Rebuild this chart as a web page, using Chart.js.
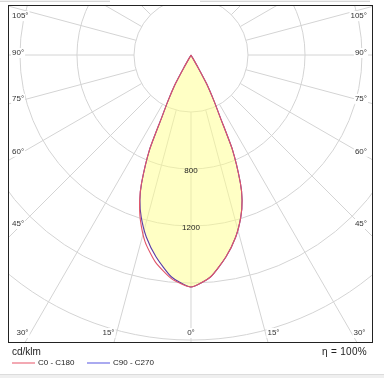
<!DOCTYPE html>
<html lang="en">
<head>
  <meta charset="UTF-8">
  <title>Polar intensity</title>
  <script src="https://cdn.jsdelivr.net/npm/chart.js"></script>
  <style>
    * { margin: 0; padding: 0; box-sizing: border-box; }
    body { background: #fff; font-family: 'Liberation Sans', Arial, sans-serif; color: #222; }
    .wrap { position: relative; width: 384px; height: 378px; overflow: hidden; }
    .wrap canvas { position: absolute; left: 0; top: 0; }
    .tab { position: absolute; top: 0; height: 2px; border-bottom: 1px solid #d6d6d6; background: #f2f2f2; }
    .foot { position: absolute; left: 0; top: 374px; width: 384px; height: 4px; background: #efefef; border-top: 1px solid #dcdcdc; }
    .unit { position: absolute; left: 12px; top: 346px; font-size: 10px; }
    .eta { position: absolute; right: 17px; top: 346px; font-size: 10px; letter-spacing: 0.3px; }
    .key { position: absolute; top: 358px; font-size: 8px; line-height: 10px; display: flex; align-items: center; }
    .key i { display: inline-block; width: 23px; height: 2px; margin-right: 3px; }
  </style>
</head>
<body>
  <div class="wrap">
    <div class="tab" style="left:0; width:110px;"></div>
    <div class="tab" style="left:200px; width:170px;"></div>
    <canvas id="polar"></canvas>
    <div class="unit">cd/klm</div>
    <div class="eta">&eta; = 100%</div>
    <div class="key" style="left:12px;"><i style="background:#f3a9b3;"></i>C0 - C180</div>
    <div class="key" style="left:87px;"><i style="background:#aaaaf0;"></i>C90 - C270</div>
    <div class="foot"></div>
  </div>

  <script>
    // gamma angles (deg) and intensities in cd/klm
    const ANGLES = [0, 5, 9.8, 13.8, 17.1, 19.4, 21.1, 23.6, 25.1, 26.6, 28.5, 29.5, 90];
    const C0   = [1628, 1564, 1438, 1315, 1189, 1079, 963, 730, 485, 360, 228, 102, 0];
    const C180 = [1628, 1575, 1473, 1350, 1209, 1085, 965, 730, 485, 360, 228, 102, 0];
    const C90  = [1628, 1564, 1438, 1315, 1189, 1079, 963, 730, 485, 360, 228, 102, 0];
    const C270 = [1628, 1564, 1438, 1315, 1189, 1079, 963, 730, 485, 360, 228, 102, 0];

    // grid
    const RINGS = [400, 800, 1200, 1600, 2000, 2400];
    const RING_LABELS = [800, 1200];
    const RAY_ANGLES = [0, 15, 30, 45, 60, 75, 90, 105, 120, 135, 150, 165, 180];
    const ANGLE_LABELS = [0, 15, 30, 45, 60, 75, 90, 105];

    const rad = d => d * Math.PI / 180;

    // left half (C180 / C270) from 90 down to 0, then right half (C0 / C90) back up to 90
    function curve(left, right) {
      const pts = [];
      for (let i = ANGLES.length - 1; i > 0; i--) {
        const a = rad(ANGLES[i]);
        pts.push({ x: -left[i] * Math.sin(a), y: -left[i] * Math.cos(a) });
      }
      for (let i = 0; i < ANGLES.length; i++) {
        const a = rad(ANGLES[i]);
        pts.push({ x: right[i] * Math.sin(a), y: -right[i] * Math.cos(a) });
      }
      return pts;
    }

    const polarGrid = {
      id: 'polarGrid',
      beforeDraw(chart) {
        const { ctx, chartArea: ca, scales: { x, y } } = chart;
        const cx = x.getPixelForValue(0), cy = y.getPixelForValue(0);
        const k = x.getPixelForValue(1000) - cx;
        ctx.save();
        ctx.beginPath();
        ctx.rect(ca.left, ca.top, ca.right - ca.left, ca.bottom - ca.top);
        ctx.clip();
        ctx.strokeStyle = '#d4d4d4';
        ctx.lineWidth = 1;
        RINGS.forEach(v => {
          ctx.beginPath();
          ctx.arc(cx, cy, v / 1000 * k, 0, Math.PI * 2);
          ctx.stroke();
        });
        const r0 = RINGS[0] / 1000 * k;
        RAY_ANGLES.forEach(d => {
          [-1, 1].forEach(s => {
            if ((d === 0 || d === 180) && s < 0) return;
            const a = rad(d);
            const dx = s * Math.sin(a), dy = Math.cos(a);
            ctx.beginPath();
            ctx.moveTo(cx + dx * r0, cy + dy * r0);
            ctx.lineTo(cx + dx * 600, cy + dy * 600);
            ctx.stroke();
          });
        });
        ctx.restore();
      },
      afterDatasetsDraw(chart) {
        const { ctx, scales: { x, y } } = chart;
        const cx = x.getPixelForValue(0);
        ctx.save();
        ctx.font = '8px "Liberation Sans", Arial, sans-serif';
        ctx.fillStyle = '#222';
        ctx.textAlign = 'center';
        ctx.textBaseline = 'middle';
        RING_LABELS.forEach(v => {
          ctx.fillText(String(v), cx, y.getPixelForValue(-v) + 2);
        });
        ctx.restore();
      },
      afterDraw(chart) {
        const { ctx, chartArea: ca, scales: { x, y } } = chart;
        const cx = x.getPixelForValue(0), cy = y.getPixelForValue(0);
        ctx.save();
        ctx.font = '8px "Liberation Sans", Arial, sans-serif';
        ctx.textBaseline = 'middle';
        const sideX = 12, baseY = ca.bottom - 10;
        ANGLE_LABELS.forEach(d => {
          const a = rad(d);
          const txt = d + '\u00b0';
          const w = ctx.measureText(txt).width;
          [-1, 1].forEach(s => {
            if (d === 0 && s > 0) return;
            let px, py, align;
            const sy = d > 0 ? cy + (cx - ca.left - sideX) * Math.cos(a) / Math.sin(a) : Infinity;
            if (sy <= baseY) {
              py = Math.max(ca.top + 11, sy - 2);
              if (s < 0) { px = ca.left + 4; align = 'left'; }
              else { px = ca.right - 6; align = 'right'; }
            } else {
              py = baseY;
              px = cx + s * ((baseY - cy) * Math.tan(a) + (d === 0 ? 0 : 8));
              align = 'center';
            }
            const bx = align === 'left' ? px : align === 'right' ? px - w : px - w / 2;
            ctx.fillStyle = '#fff';
            ctx.fillRect(bx - 1, py - 5, w + 2, 10);
            ctx.fillStyle = '#333';
            ctx.textAlign = align;
            ctx.fillText(txt, px, py);
          });
        });
        ctx.strokeStyle = '#222';
        ctx.lineWidth = 1;
        ctx.strokeRect(Math.round(ca.left) + 0.5, Math.round(ca.top) + 0.5,
          Math.round(ca.right - ca.left) - 1, Math.round(ca.bottom - ca.top) - 1);
        ctx.restore();
      }
    };

    new Chart(document.getElementById('polar'), {
      type: 'scatter',
      data: {
        datasets: [
          {
            label: 'C0 - C180',
            data: curve(C180, C0),
            showLine: true,
            borderColor: 'rgb(225,85,105)',
            borderWidth: 1.1,
            pointRadius: 0,
            tension: 0.2,
            fill: false,
          },
          {
            label: 'C90 - C270',
            data: curve(C270, C90),
            showLine: true,
            borderColor: 'rgb(90,60,165)',
            backgroundColor: 'rgba(255,255,140,0.5)',
            borderWidth: 1.1,
            pointRadius: 0,
            tension: 0.2,
            fill: 'shape',
          },
        ],
      },
      options: {
        responsive: true,
        maintainAspectRatio: false,
        animation: false,
        layout: { padding: { left: 8, top: 5, right: 11, bottom: 35 } },
        scales: {
          x: { display: false, min: -1284, max: 1277 },
          y: { display: false, min: -2021, max: 351 },
        },
        plugins: {
          legend: { display: false },
          tooltip: { enabled: false },
          filler: { drawTime: 'beforeDatasetsDraw' },
        },
      },
      plugins: [polarGrid],
    });
  </script>
</body>
</html>
